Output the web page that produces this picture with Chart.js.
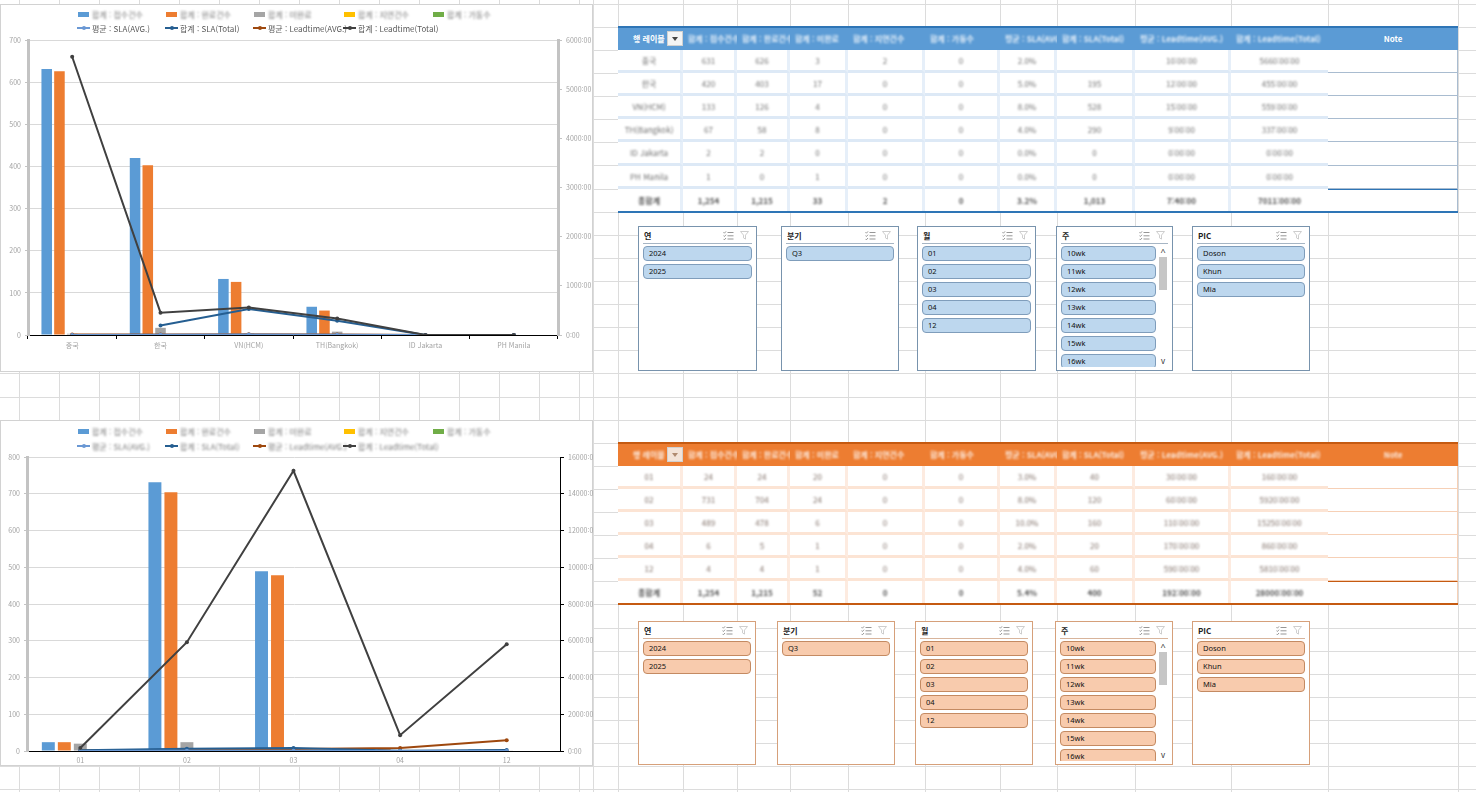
<!DOCTYPE html>
<html lang="ko">
<head>
<meta charset="utf-8">
<title>SLA / Leadtime 현황</title>
<script src="https://cdn.jsdelivr.net/npm/chart.js@4.4.1/dist/chart.umd.min.js"></script>
<style>
  html, body { margin: 0; padding: 0; }
  body { position: relative; width: 1476px; height: 792px; overflow: hidden; background: #fff;
         font-family: 'Noto Sans', 'Noto Sans CJK KR', sans-serif; }
  .gl { position: absolute; background: #dcdcdc; }
  .chartBox { position: absolute; left: 0; width: 593px; background: #fff; outline: 1px solid #d2d2d2; outline-offset: -1px; }
  .chartBox canvas { position: absolute; left: 0; top: 0; }
  .lg { position: absolute; display: flex; align-items: center; white-space: nowrap; height: 10px;
        font-size: 8px; color: #595959; font-family: 'Noto Sans CJK KR', sans-serif; }
  .lg .txt { margin-left: 2px; display: inline-block; }
  .soft { filter: blur(0.9px); color: #7a7a7a; }
  .cell { position: absolute; box-sizing: border-box; font-size: 8px; display: flex; align-items: center;
          justify-content: center; white-space: nowrap; overflow: hidden; background: #fff;
          font-family: 'Noto Sans CJK KR', sans-serif; }
  .blurTxt { display: inline-block; filter: blur(1.3px); }
  .slicer { position: absolute; box-sizing: border-box; background: #fff; font-family: 'Noto Sans', 'Noto Sans CJK KR', sans-serif; }
  .slicer .ttl { position: absolute; left: 5px; top: 3px; font-size: 8px; font-weight: bold; color: #222; font-family: 'Noto Sans CJK KR', sans-serif; }
  .slicer .sep { position: absolute; left: 4px; right: 4px; top: 16px; height: 1px; }
  .slicer .list { position: absolute; left: 0; right: 0; top: 19px; bottom: 3px; overflow: hidden; }
  .slicer .item { position: absolute; left: 4px; height: 15px; box-sizing: border-box; border-radius: 4px;
                  font-size: 7.5px; line-height: 13px; padding-left: 5px; color: #111; }
</style>
</head>
<body>
<div class="chartBox" id="box1" style="top:4px;height:368px"><canvas id="chart1" width="593" height="368"></canvas></div>
<div class="chartBox" id="box2" style="top:420px;height:346px"><canvas id="chart2" width="593" height="346"></canvas></div>

<script>
// ---------- 데이터 ----------
const barNames = ['합계 : 접수건수', '합계 : 완료건수', '합계 : 미완료', '합계 : 지연건수', '합계 : 가동수'];
const lineNames = ['평균 : SLA(AVG.)', '합계 : SLA(Total)', '평균 : Leadtime(AVG.)', '합계 : Leadtime(Total)'];

// 차트 1 - 지역별
const regionLabels = ['중국', '한국', 'VN(HCM)', 'TH(Bangkok)', 'ID Jakarta', 'PH Manila'];
const regionReceived = [631, 420, 133, 67, 2, 1];
const regionDone = [626, 403, 126, 58, 2, 0];
const regionOpen = [3, 17, 4, 8, 0, 1];
const regionDelay = [2, 0, 0, 0, 0, 0];
const regionRun = [0, 0, 0, 0, 0, 0];
const regionSlaAvg = [2, 5, 8, 4, 0, 0];
const regionSlaTotal = [null, 195, 528, 290, 0, 0];
const regionLtAvg = [10, 12, 15, 9, 0, 0];
const regionLtTotal = [5660, 455, 559, 337, 0, 0];

// 차트 2 - 월별
const monthLabels = ['01', '02', '03', '04', '12'];
const monthReceived = [24, 731, 489, 6, 4];
const monthDone = [24, 704, 478, 5, 4];
const monthOpen = [20, 24, 6, 1, 1];
const monthDelay = [0, 0, 0, 0, 0];
const monthRun = [0, 0, 0, 0, 0];
const monthSlaAvg = [3, 8, 10, 2, 4];
const monthSlaTotal = [40, 120, 160, 20, 60];
const monthLtAvg = [30, 60, 110, 170, 590];
const monthLtTotal = [160, 5920, 15250, 860, 5810];

// 슬라이서
const yearItems = ['2024', '2025'];
const quarterItems = ['Q3'];
const monthItems = ['01', '02', '03', '04', '12'];
const weekItems = ['10wk', '11wk', '12wk', '13wk', '14wk', '15wk', '16wk'];
const picItems = ['Doson', 'Khun', 'Mia'];

// 스타일
const barColors = ['#5b9bd5', '#ed7d31', '#a5a5a5', '#ffc000', '#70ad47'];
const lineColors = ['#6a98d4', '#255e91', '#9e480e', '#404040'];
const tableCols = [618, 683, 737, 790, 848, 925, 1000, 1057, 1135, 1231, 1328, 1458];
const ROW_H = 23.1, ROW_0 = 3.8;

Chart.defaults.font.family = "'Noto Sans CJK KR', 'Noto Sans', sans-serif";
Chart.defaults.font.size = 7;

function el(tag, cls, css, parent, text) {
    const e = document.createElement(tag);
    if (cls) e.className = cls;
    if (css) e.style.cssText = css;
    if (text !== undefined) e.textContent = text;
    (parent || document.body).appendChild(e);
    return e;
}

// 엑셀 눈금선
function drawSheetGrid() {
    const first = document.body.firstChild;
    const frag = document.createDocumentFragment();
    for (let y = ROW_0; y < 792; y += ROW_H) {
        const d = document.createElement('div');
        d.className = 'gl';
        d.style.cssText = `left:0;top:${Math.round(y)}px;width:1476px;height:1px`;
        frag.appendChild(d);
    }
    const xs = [];
    for (let x = 19; x < 600; x += 40) xs.push(x);
    xs.push(593, ...tableCols);
    xs.forEach(x => {
        const d = document.createElement('div');
        d.className = 'gl';
        d.style.cssText = `left:${x}px;top:0;width:1px;height:792px`;
        frag.appendChild(d);
    });
    document.body.insertBefore(frag, first);
}

function buildChart(canvasId, labels, bars, lines, ax) {
    const ctx = document.getElementById(canvasId).getContext('2d');
    const datasets = [];
    bars.forEach((data, i) => datasets.push({
        type: 'bar', label: barNames[i], data: data,
        backgroundColor: barColors[i], borderWidth: 0, yAxisID: 'y', order: 2,
        categoryPercentage: ax.catPct, barPercentage: ax.barPct
    }));
    lines.forEach((data, i) => datasets.push({
        type: 'line', label: lineNames[i], data: data,
        borderColor: lineColors[i], backgroundColor: lineColors[i],
        borderWidth: 2, pointRadius: 2, pointBorderWidth: 0, tension: 0,
        yAxisID: 'y1', order: i === 3 ? 0 : 1
    }));

    return new Chart(ctx, {
        data: { labels: labels, datasets: datasets },
        options: {
            responsive: false,
            animation: false,
            events: [],
            layout: { padding: { top: ax.top } },
            plugins: { legend: { display: false }, tooltip: { enabled: false } },
            scales: {
                x: {
                    offset: true,
                    grid: { drawOnChartArea: false, drawTicks: ax.xTicks, tickLength: 4, color: '#000' },
                    border: { color: '#000', width: 1 },
                    ticks: { autoSkip: false, maxRotation: 0, color: '#a3a3a3', padding: ax.xTicks ? 2 : 5 },
                    afterFit: s => { s.height = ax.xHeight; }
                },
                y: {
                    min: 0, max: ax.yMax,
                    ticks: { stepSize: ax.yStep, color: '#a3a3a3', padding: 4 },
                    grid: { color: '#d9d9d9', tickLength: 3, tickColor: '#c4c4c4' },
                    border: { color: '#c3c3c3', width: 3 },
                    afterFit: s => { s.width = ax.yWidth; }
                },
                y1: {
                    position: 'right', min: 0, max: ax.y1Max,
                    ticks: { stepSize: ax.y1Step, color: '#a3a3a3', padding: 4, callback: v => v + ':00' },
                    grid: { drawOnChartArea: false, tickLength: 4, color: ax.y1Border },
                    border: { color: ax.y1Border, width: ax.y1BorderW },
                    afterFit: s => { s.width = ax.y1Width; }
                }
            }
        }
    });
}

// 범례 (엑셀식 2줄)
function buildLegend(chart, boxId, rowsY, softRows) {
    const box = document.getElementById(boxId);
    const colX = [77, 165, 253, 343, 432];
    chart.data.datasets.forEach((ds, i) => {
        const isLine = ds.type === 'line';
        const row = isLine ? 1 : 0;
        const col = isLine ? i - 5 : i;
        const item = el('div', 'lg', `left:${colX[col]}px;top:${rowsY[row] - 5}px`, box);
        const icon = el('span', '', 'position:relative;display:inline-block;width:13px;height:10px' + (softRows[row] ? ';filter:blur(0.5px)' : ''), item);
        if (isLine) {
            el('span', '', `position:absolute;left:0;top:4px;width:13px;height:2px;background:${ds.borderColor}`, icon);
            el('span', '', `position:absolute;left:4.5px;top:3px;width:4px;height:4px;border-radius:2px;background:${ds.borderColor}`, icon);
        } else {
            el('span', '', `position:absolute;left:1px;top:2.5px;width:11px;height:5px;background:${ds.backgroundColor}`, icon);
        }
        el('span', 'txt' + (softRows[row] ? ' soft' : ''), '', item, ds.label);
    });
}

// ---------- 표 ----------
function fmtInt(v) { return v === null ? '' : v.toLocaleString('en-US'); }
function fmtTime(h) {
    if (h === null) return '';
    const hh = Math.floor(h), mm = Math.round((h - hh) * 60);
    return `${hh}:${String(mm).padStart(2, '0')}:00`;
}
function avg(a) { const v = a.filter(x => x !== null); return v.length ? v.reduce((s, x) => s + x, 0) / v.length : null; }
function sum(a) { return a.reduce((s, x) => s + (x || 0), 0); }

function tableRows(labels, cols) {
    const fmts = [fmtInt, fmtInt, fmtInt, fmtInt, fmtInt, v => v === null ? '' : v.toFixed(1) + '%', fmtInt, fmtTime, fmtTime];
    const rows = labels.map((lab, r) => [lab, ...cols.map((c, j) => fmts[j](c[r]))]);
    const total = ['총합계', ...cols.map((c, j) => fmts[j]((j === 5 || j === 7) ? avg(c) : sum(c)))];
    return { rows, total };
}

function buildTable(top, labels, cols, th) {
    const { rows, total } = tableRows(labels, cols);
    const headers = ['행 레이블', ...barNames, ...lineNames, 'Note'];
    const W = tableCols[tableCols.length - 1] - tableCols[0];
    const y = k => Math.round(top + k * ROW_H);

    // header
    el('div', '', `position:absolute;left:${tableCols[0]}px;top:${y(0) - 1}px;width:${W}px;height:${y(1) - y(0) + 1}px;background:${th.head};border-top:2px solid ${th.edge};box-sizing:border-box`);
    headers.forEach((h, i) => {
        const x0 = tableCols[i], w = tableCols[i + 1] - x0;
        const c = el('div', 'cell', `left:${x0}px;top:${y(0)}px;width:${w}px;height:${y(1) - y(0)}px;background:transparent;color:#fff;font-weight:bold;justify-content:${i === 10 ? 'center' : 'flex-start'};padding-left:${i === 0 ? 15 : (i === 10 ? 0 : 5)}px`);
        const crisp = th.crispHead.includes(i);
        el('span', crisp ? '' : 'blurTxt', crisp ? '' : 'opacity:0.85', c, h);
    });
    // 드롭다운 버튼
    const dd = el('div', '', `position:absolute;left:667px;top:${y(0) + 4}px;width:16px;height:15px;background:${th.dd};border:1px solid #d0d0d0;box-sizing:border-box`);
    el('div', '', `position:absolute;left:4px;top:5px;width:0;height:0;border-left:3.5px solid transparent;border-right:3.5px solid transparent;border-top:4px solid ${th.ddArrow}`, dd);

    // body
    const all = rows.concat([total]);
    all.forEach((r, ri) => {
        const isTotal = ri === all.length - 1;
        const top0 = y(ri + 1), h = y(ri + 2) - top0;
        r.concat(['']).forEach((txt, ci) => {
            const x0 = tableCols[ci], w = tableCols[ci + 1] - x0;
            const note = ci === 10;
            let css = `left:${x0}px;top:${top0}px;width:${w}px;height:${h}px;color:${th.text};`;
            if (note) {
                css += `border-bottom:1px solid ${th.noteLine};border-right:1px solid ${th.noteLine};`;
                if (isTotal) css += `border-top:1px solid ${th.edge};`;
            } else {
                if (!isTotal) css += `border-bottom:3px solid ${th.sepH};`;
                if (ci < 9) css += `border-right:3px solid ${th.sepV};`;
            }
            if (isTotal) css += 'font-weight:bold;color:#555;';
            const c = el('div', 'cell', css);
            el('span', 'blurTxt', '', c, txt);
        });
    });
    // 하단 굵은 선
    el('div', '', `position:absolute;left:${tableCols[0]}px;top:${y(all.length + 1) - 1}px;width:${W}px;height:2px;background:${th.edge}`);
}

// ---------- 슬라이서 ----------
const iconMulti = c => `<svg width="11" height="9" viewBox="0 0 11 9"><g fill="none" stroke="${c}" stroke-width="0.9"><path d="M0.5 1.3l0.9 0.9 1.6-1.8M0.5 4.6l0.9 0.9 1.6-1.8M0.5 7.9l0.9 0.9 1.6-1.8"/><path d="M4.5 1.5h6M4.5 4.8h6M4.5 8h6"/></g></svg>`;
const iconClear = c => `<svg width="10" height="9" viewBox="0 0 10 9"><path d="M0.5 0.5h8l-3 3.6v4l-2-1.2v-2.8z" fill="none" stroke="${c}" stroke-width="0.9"/></svg>`;

function buildSlicer(x, y, w, h, title, items, th, scroll) {
    const s = el('div', 'slicer', `left:${x}px;top:${y}px;width:${w}px;height:${h}px;border:1px solid ${th.border}`);
    el('div', 'ttl', '', s, title);
    const ic = el('div', '', `position:absolute;left:${w - 35}px;top:4px;width:30px;height:10px;display:flex;gap:6px`, s);
    ic.innerHTML = iconMulti('#8a8a8a') + iconClear('#c8c8c8');
    el('div', 'sep', `background:${th.sep}`, s);
    const list = el('div', 'list', '', s);
    const iw = w - 10 - (scroll ? 12 : 0);
    items.forEach((t, i) => {
        el('div', 'item', `top:${i * 18}px;width:${iw}px;background:${th.item};border:1px solid ${th.itemBorder}`, list, t);
    });
    if (scroll) {
        const sb = el('div', '', `position:absolute;left:${w - 16}px;top:19px;width:10px;bottom:3px`, s);
        el('div', '', 'position:absolute;left:0;top:0;width:10px;height:10px;font-size:9px;line-height:12px;text-align:center;color:#333', sb, '^');
        el('div', '', 'position:absolute;left:1px;top:11px;width:8px;height:33px;background:#c6c6c6', sb);
        el('div', '', 'position:absolute;left:0;bottom:0;width:10px;height:10px;font-size:8px;line-height:8px;text-align:center;color:#333', sb, 'v');
    }
}

// ---------- 그리기 ----------
drawSheetGrid();

const chart1 = buildChart('chart1', regionLabels,
    [regionReceived, regionDone, regionOpen, regionDelay, regionRun],
    [regionSlaAvg, regionSlaTotal, regionLtAvg, regionLtTotal],
    { top: 36, xHeight: 37, xTicks: true, yMax: 700, yStep: 100, yWidth: 28,
      y1Max: 6000, y1Step: 1000, y1Width: 35, y1Border: '#c3c3c3', y1BorderW: 3,
      catPct: 0.72, barPct: 0.83 });
buildLegend(chart1, 'box1', [10, 24], [true, false]);

const chart2 = buildChart('chart2', monthLabels,
    [monthReceived, monthDone, monthOpen, monthDelay, monthRun],
    [monthSlaAvg, monthSlaTotal, monthLtAvg, monthLtTotal],
    { top: 37, xHeight: 15, xTicks: false, yMax: 800, yStep: 100, yWidth: 27,
      y1Max: 16000, y1Step: 2000, y1Width: 33, y1Border: '#000', y1BorderW: 1,
      catPct: 0.75, barPct: 0.81 });
buildLegend(chart2, 'box2', [11, 26], [true, true]);

const blueTable = { head: '#5b9bd5', edge: '#2e75b6', sepH: '#dde9f6', sepV: '#e6eff9', noteLine: '#a9bcd0',
                    text: '#707070', dd: '#f4f4f4', ddArrow: '#444', crispHead: [0, 10] };
const orangeTable = { head: '#ed7d31', edge: '#c55a11', sepH: '#fce4d4', sepV: '#fdebe0', noteLine: '#f6d0b6',
                      text: '#807068', dd: '#f3e3d8', ddArrow: '#b08a70', crispHead: [] };

buildTable(ROW_0 + ROW_H, regionLabels,
    [regionReceived, regionDone, regionOpen, regionDelay, regionRun, regionSlaAvg, regionSlaTotal, regionLtAvg, regionLtTotal], blueTable);
buildTable(ROW_0 + 19 * ROW_H, monthLabels,
    [monthReceived, monthDone, monthOpen, monthDelay, monthRun, monthSlaAvg, monthSlaTotal, monthLtAvg, monthLtTotal], orangeTable);

const blueSlicer = { border: '#7893ad', sep: '#a6b5c4', item: '#bdd7ee', itemBorder: '#7f9dbb' };
const orangeSlicer = { border: '#d6a07a', sep: '#d8b49b', item: '#f8cbad', itemBorder: '#c48a62' };

buildSlicer(638, 226, 119, 145, '연', yearItems, blueSlicer, false);
buildSlicer(781, 226, 118, 145, '분기', quarterItems, blueSlicer, false);
buildSlicer(917, 226, 119, 145, '월', monthItems, blueSlicer, false);
buildSlicer(1056, 226, 117, 145, '주', weekItems, blueSlicer, true);
buildSlicer(1192, 226, 118, 145, 'PIC', picItems, blueSlicer, false);

buildSlicer(638, 621, 118, 144, '연', yearItems, orangeSlicer, false);
buildSlicer(777, 621, 118, 144, '분기', quarterItems, orangeSlicer, false);
buildSlicer(915, 621, 118, 144, '월', monthItems, orangeSlicer, false);
buildSlicer(1055, 621, 118, 144, '주', weekItems, orangeSlicer, true);
buildSlicer(1192, 621, 118, 144, 'PIC', picItems, orangeSlicer, false);
</script>
</body>
</html>
